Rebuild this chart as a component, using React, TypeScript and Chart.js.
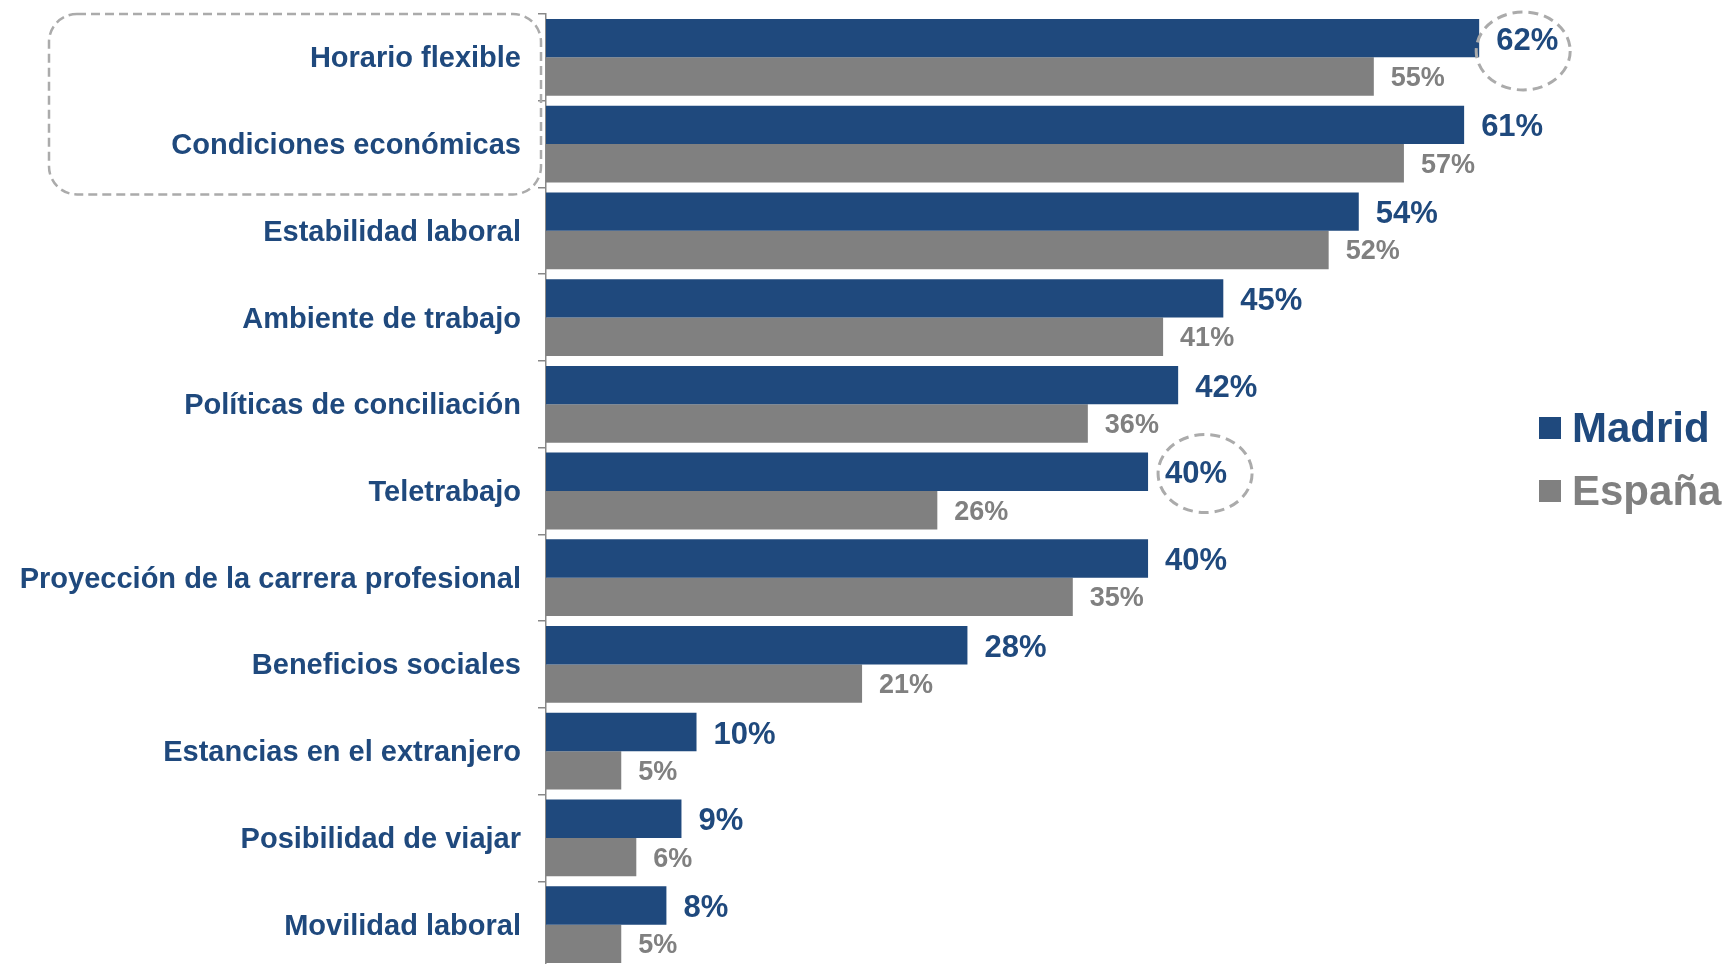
import React, { useEffect, useRef } from "react";
import { Chart, registerables } from "chart.js";
Chart.register(...registerables);

const categories = [
  "Horario flexible",
  "Condiciones económicas",
  "Estabilidad laboral",
  "Ambiente de trabajo",
  "Políticas de conciliación",
  "Teletrabajo",
  "Proyección de la carrera profesional",
  "Beneficios sociales",
  "Estancias en el extranjero",
  "Posibilidad de viajar",
  "Movilidad laboral",
];
const madridValues = [62, 61, 54, 45, 42, 40, 40, 28, 10, 9, 8];
const espanaValues = [55, 57, 52, 41, 36, 26, 35, 21, 5, 6, 5];
const seriesNames = ["Madrid", "España"];
const highlightedMadrid = [0, 5];

const NAVY = "#1F497D";
const GRAY = "#808080";
const FONT = "'Liberation Sans', Arial, sans-serif";

const extrasPlugin = {
  id: "extras",
  afterDatasetsDraw(chart: any) {
    const ctx = chart.ctx;
    const yScale = chart.scales.y;
    ctx.save();
    // value labels
    chart.data.datasets.forEach((ds: any, i: number) => {
      const meta = chart.getDatasetMeta(i);
      meta.data.forEach((el: any, j: number) => {
        ctx.font = i === 0 ? `bold 31px ${FONT}` : `bold 27px ${FONT}`;
        ctx.fillStyle = i === 0 ? NAVY : GRAY;
        ctx.textBaseline = "middle";
        ctx.textAlign = "left";
        ctx.fillText(ds.data[j] + "%", el.x + 17, el.y + (i === 0 ? 3 : 2));
      });
    });
    // dashed ellipses
    const meta0 = chart.getDatasetMeta(0);
    const dys = [12.8, 1.7];
    const dxs = [-4, 9];
    ctx.strokeStyle = "#ababab";
    ctx.lineWidth = 3;
    ctx.setLineDash([10, 6]);
    highlightedMadrid.forEach((idx, k) => {
      const el: any = meta0.data[idx];
      ctx.font = `bold 31px ${FONT}`;
      const w = ctx.measureText(chart.data.datasets[0].data[idx] + "%").width;
      const cx = el.x + 17 + w / 2 + dxs[k];
      const cy = el.y + dys[k];
      ctx.beginPath();
      ctx.ellipse(cx, cy, 47, 39, 0, 0, Math.PI * 2);
      ctx.stroke();
    });
    // dashed rounded rect around first two categories
    const pitch = yScale.getPixelForValue(1) - yScale.getPixelForValue(0);
    const top = yScale.getPixelForValue(0) - pitch / 2;
    const bottom = yScale.getPixelForValue(1) + pitch / 2 + 7;
    const left = 49;
    const right = chart.chartArea.left - 5;
    ctx.lineWidth = 2.5;
    ctx.setLineDash([9, 5]);
    ctx.beginPath();
    (ctx as any).roundRect(left, top, right - left, bottom - top, 28);
    ctx.stroke();
    ctx.setLineDash([]);
    // legend
    const legendItems = [
      { y: 417, color: NAVY },
      { y: 480, color: GRAY },
    ];
    legendItems.forEach((it, i) => {
      ctx.fillStyle = it.color;
      ctx.fillRect(1539, it.y, 22, 22);
      ctx.font = `bold 42px ${FONT}`;
      ctx.textBaseline = "alphabetic";
      ctx.textAlign = "left";
      ctx.fillText(chart.data.datasets[i].label, 1572, it.y + 25);
    });
    ctx.restore();
  },
};

export default function App() {
  const canvasRef = useRef<HTMLCanvasElement | null>(null);
  useEffect(() => {
    if (!canvasRef.current) return;
    const chart = new Chart(canvasRef.current, {
      type: "bar",
      data: {
        labels: categories,
        datasets: [
          {
            label: seriesNames[0],
            data: madridValues,
            backgroundColor: NAVY,
            barPercentage: 1,
            categoryPercentage: 0.885,
          },
          {
            label: seriesNames[1],
            data: espanaValues,
            backgroundColor: GRAY,
            barPercentage: 1,
            categoryPercentage: 0.885,
          },
        ],
      },
      options: {
        indexAxis: "y",
        responsive: false,
        animation: false,
        devicePixelRatio: 1,
        layout: { padding: { top: 14, right: 6, bottom: 0, left: 0 } },
        plugins: { legend: { display: false }, tooltip: { enabled: false } },
        scales: {
          x: { display: false, min: 0, max: 78 },
          y: {
            afterFit: (scale: any) => {
              scale.width = 546;
              scale.paddingTop = 0;
              scale.paddingBottom = 0;
            },
            ticks: {
              font: { family: FONT, size: 29, weight: "bold" },
              color: NAVY,
              padding: 17,
              labelOffset: 2,
            },
            grid: {
              offset: true,
              drawOnChartArea: false,
              tickLength: 8,
              color: "#888888",
              lineWidth: 1.5,
            },
            border: { color: "#888888", width: 1.5 },
          },
        },
      },
      plugins: [extrasPlugin],
    } as any);
    return () => chart.destroy();
  }, []);
  return (
    <div
      style={{
        position: "fixed",
        left: 0,
        top: 0,
        width: 1726,
        height: 964,
        overflow: "hidden",
        background: "#fff",
      }}
    >
      <canvas ref={canvasRef} width={1726} height={968} style={{ display: "block" }} />
    </div>
  );
}
